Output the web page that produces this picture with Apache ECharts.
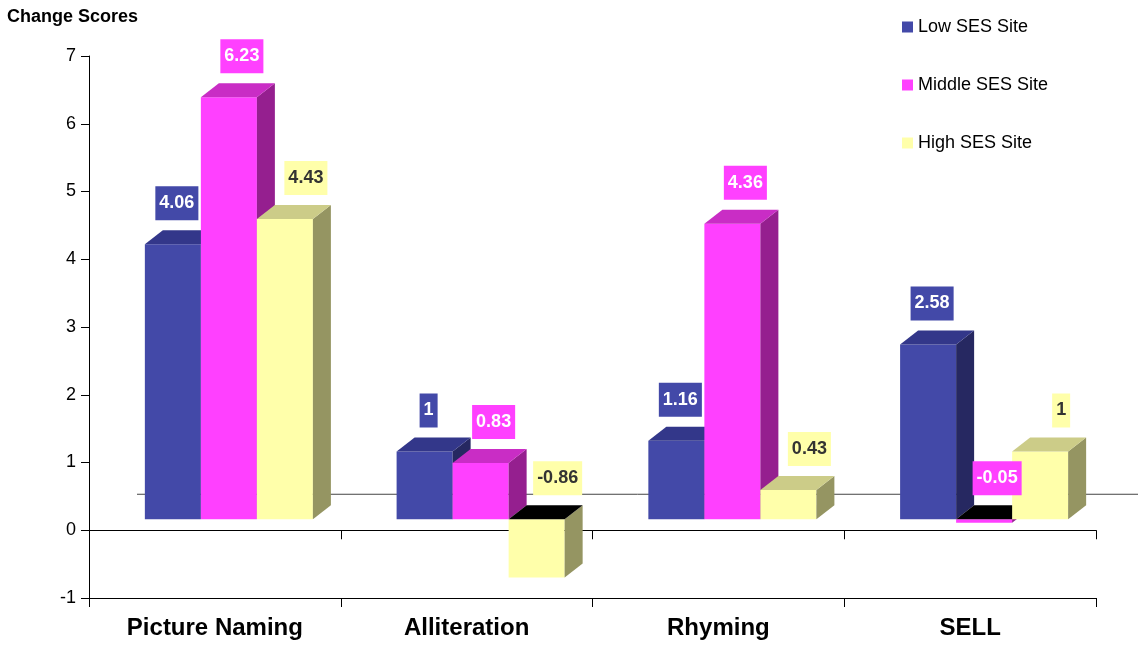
<!DOCTYPE html>
<html>
<head>
<meta charset="utf-8">
<script src="https://cdn.jsdelivr.net/npm/echarts@6/dist/echarts.min.js"></script>
<style>html,body{margin:0;padding:0;background:#fff;}#c{width:1138px;height:646px;}</style>
</head>
<body>
<div id="c"></div>
<script>
// ---- data ----
const categories = ['Picture Naming', 'Alliteration', 'Rhyming', 'SELL'];
const seriesNames = ['Low SES Site', 'Middle SES Site', 'High SES Site'];
const lowValues = [4.06, 1, 1.16, 2.58];
const middleValues = [6.23, 0.83, 4.36, -0.05];
const highValues = [4.43, -0.86, 0.43, 1];
const yMin = -1, yMax = 7, yStep = 1;

// ---- styles ----
const FONT = "'Liberation Sans', Arial, sans-serif";
const palette = [
  { front: '#4349A8', top: '#33378A', side: '#262861', text: '#FFFFFF' },
  { front: '#FF40FF', top: '#C92DC5', side: '#951F8F', text: '#FFFFFF' },
  { front: '#FFFFAA', top: '#CCCC88', side: '#959562', text: '#333333' }
];
const labelOffsets = [4, 13, 21];
const SHIFT_X = 14, SHIFT_Y = 11, DX = 18, DY = -14, BAR_FRAC = 0.2225;

const allValues = [lowValues, middleValues, highValues];

function makeRender(s) {
  const pal = palette[s];
  return function (params, api) {
    const cat = api.value(0), v = api.value(1);
    const base = api.coord([cat, 0]);
    const tp = api.coord([cat, v]);
    const band = api.size([1, 0])[0];
    const bw = band * BAR_FRAC;
    const xL = base[0] - 1.5 * bw + s * bw + SHIFT_X;
    const xR = xL + bw;
    const yB = base[1] - SHIFT_Y, yT = tp[1] - SHIFT_Y;
    const hi = Math.min(yB, yT), lo = Math.max(yB, yT);
    return {
      type: 'group',
      children: [
        { type: 'rect', shape: { x: xL, y: hi, width: bw, height: lo - hi }, style: { fill: pal.front } },
        { type: 'polygon', shape: { points: [[xR, hi], [xR + DX, hi + DY], [xR + DX, lo + DY], [xR, lo]] }, style: { fill: pal.side } },
        { type: 'polygon', shape: { points: [[xL, hi], [xL + DX, hi + DY], [xR + DX, hi + DY], [xR, hi]] }, style: { fill: v < 0 ? '#000000' : pal.top } },
        {
          type: 'text', z2: 100,
          style: {
            text: String(v), x: (xL + xR) / 2 + labelOffsets[s], y: hi - 24,
            align: 'center', verticalAlign: 'bottom',
            fill: pal.text, backgroundColor: pal.front, padding: [8, 4],
            fontSize: 18, fontWeight: 'bold', fontFamily: FONT
          }
        }
      ]
    };
  };
}

const series = allValues.map((vals, s) => ({
  type: 'custom',
  name: seriesNames[s],
  xAxisIndex: 0,
  yAxisIndex: 0,
  itemStyle: { color: palette[s].front },
  encode: { x: 0, y: 1 },
  data: vals.map((v, i) => [i, v]),
  renderItem: makeRender(s)
}));

const chart = echarts.init(document.getElementById('c'), null, { renderer: 'canvas' });
chart.setOption({
  backgroundColor: '#ffffff',
  animation: false,
  title: {
    text: 'Change Scores', left: 7, top: 8, padding: 0,
    textStyle: { fontSize: 18, fontWeight: 'bold', color: '#000', fontFamily: FONT }
  },
  legend: {
    orient: 'vertical', left: 902, top: 17, padding: 0, itemWidth: 11, itemHeight: 11, itemGap: 38,
    icon: 'rect',
    data: seriesNames,
    textStyle: { fontSize: 18, color: '#000', fontFamily: FONT, lineHeight: 20 }
  },
  grid: { left: 89, right: 42, top: 56, bottom: 48 },
  xAxis: [
    {
      type: 'category', data: categories, position: 'bottom',
      axisLine: { onZero: false, lineStyle: { color: '#000', width: 1 } },
      axisTick: { show: true, length: 9, lineStyle: { color: '#000' } },
      axisLabel: { margin: 18, fontSize: 24, fontWeight: 'bold', color: '#000', fontFamily: FONT },
      splitLine: { show: false }
    },
    {
      type: 'category', data: categories, position: 'top',
      axisLine: { onZero: true, lineStyle: { color: '#000', width: 1 } },
      axisTick: { show: true, inside: true, length: 9, lineStyle: { color: '#000' } },
      axisLabel: { show: false },
      splitLine: { show: false }
    }
  ],
  yAxis: {
    type: 'value', min: yMin, max: yMax, interval: yStep,
    axisLine: { show: true, lineStyle: { color: '#000' } },
    axisTick: { show: true, length: 8, lineStyle: { color: '#000' } },
    axisLabel: { margin: 13, fontSize: 18, color: '#000', fontFamily: FONT },
    splitLine: { show: false }
  },
  series: series
});

// back-wall zero line
const c0 = chart.convertToPixel({ xAxisIndex: 0 }, 0);
const c1 = chart.convertToPixel({ xAxisIndex: 0 }, 1);
const bandPx = c1 - c0;
const y0 = chart.convertToPixel({ yAxisIndex: 0 }, 0);
const backLeft = c0 - bandPx / 2 + 48;
chart.setOption({
  graphic: [{
    type: 'line', z: 0,
    shape: { x1: backLeft, y1: y0 - 36, x2: chart.getWidth(), y2: y0 - 36 },
    style: { stroke: '#444', lineWidth: 1 }
  }]
});
</script>
</body>
</html>
